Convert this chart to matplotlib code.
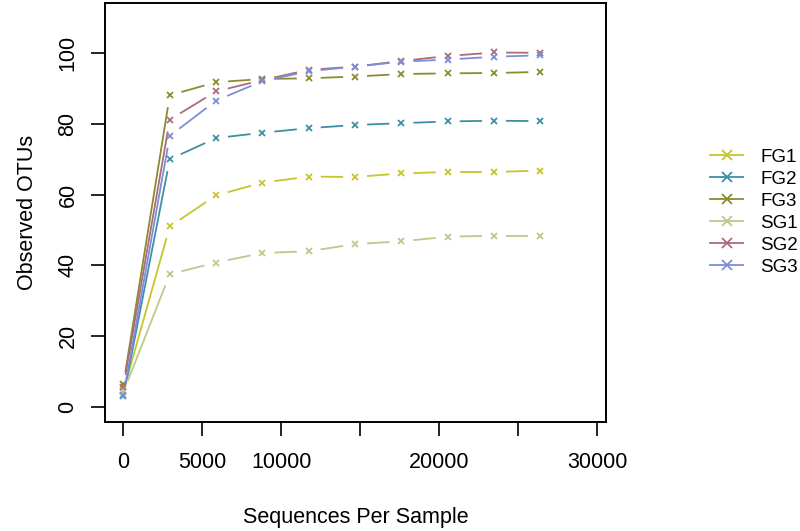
import numpy as np
import matplotlib
matplotlib.use("Agg")
import matplotlib.pyplot as plt
from matplotlib.collections import LineCollection
from matplotlib.lines import Line2D

plt.rcParams['font.family'] = ['Liberation Sans', 'DejaVu Sans']

# rarefaction depths
depths = [10, 2942, 5874, 8806, 11738, 14670, 17602, 20534, 23466, 26398]

# observed OTUs per group
fg1 = [4.5, 51.0, 59.8, 63.4, 65.1, 65.0, 66.0, 66.4, 66.4, 66.8]
fg2 = [3.0, 70.0, 76.0, 77.5, 78.8, 79.7, 80.2, 80.7, 80.9, 80.8]
fg3 = [6.5, 88.1, 91.8, 92.7, 92.9, 93.4, 94.1, 94.3, 94.4, 94.7]
sg1 = [4.2, 37.5, 40.8, 43.5, 44.0, 46.0, 46.8, 48.1, 48.4, 48.4]
sg2 = [5.7, 81.2, 89.2, 92.4, 95.3, 96.2, 97.8, 99.2, 100.2, 100.1]
sg3 = [3.3, 76.6, 86.6, 92.1, 94.9, 96.2, 97.6, 98.2, 99.0, 99.4]

groups = ['FG1', 'FG2', 'FG3', 'SG1', 'SG2', 'SG3']
series = [fg1, fg2, fg3, sg1, sg2, sg3]
colors = ['#c6c52c', '#3d8fa6', '#8b8b2f', '#bdc98c', '#ad6b7b', '#7b8fd8']

xticks = [0, 5000, 10000, 15000, 20000, 25000, 30000]
xticklabels = ['0', '5000', '10000', '', '20000', '', '30000']
yticks = [0, 20, 40, 60, 80, 100]

fig = plt.figure(figsize=(8, 5.31), dpi=100)
ax = fig.add_axes([0.13125, 0.2059, 0.6259, 0.7885])
ax.set_xlim(-1158, 30532)
ax.set_ylim(-4.2, 114.2)


def gapped_line(ax, xs, ys, color, gap=12):
    # R style type="b": line segments stop short of each point
    pts = ax.transData.transform(np.column_stack([xs, ys]))
    inv = ax.transData.inverted()
    segs = []
    for p, q in zip(pts[:-1], pts[1:]):
        d = q - p
        L = np.hypot(*d)
        if L > 2 * gap:
            u = d / L
            segs.append(inv.transform(np.array([p + u * gap, q - u * gap])))
    ax.add_collection(LineCollection(segs, colors=color, linewidths=1.3))


for name, ys, c in zip(groups, series, colors):
    gapped_line(ax, depths, ys, c)
    ax.plot(depths, ys, linestyle='none', marker='x', color=c,
            markersize=5, markeredgewidth=1.3)

for s in ax.spines.values():
    s.set_linewidth(1.4)
ax.set_xticks(xticks)
ax.set_xticklabels(xticklabels)
ax.set_yticks(yticks)
ax.tick_params(axis='both', length=10, width=1.2, labelsize=15.5)
ax.tick_params(axis='x', pad=12)
ax.tick_params(axis='y', pad=9)
plt.setp(ax.get_yticklabels(), rotation=90, va='center')
ax.set_xlabel('Sequences Per Sample', fontsize=15.5, labelpad=24)
ax.set_ylabel('Observed OTUs', fontsize=15.5, labelpad=14)

handles = [Line2D([], [], color=c, marker='x', markersize=7, markeredgewidth=1.3,
                  linewidth=1.3) for c in colors]
fig.legend(handles, groups, loc='center left', bbox_to_anchor=(0.888, 0.6),
           frameon=False, fontsize=13.5, handlelength=1.75, handletextpad=0.9,
           labelspacing=0.26, borderpad=0, borderaxespad=0)

fig.savefig('out.png', dpi=100)
